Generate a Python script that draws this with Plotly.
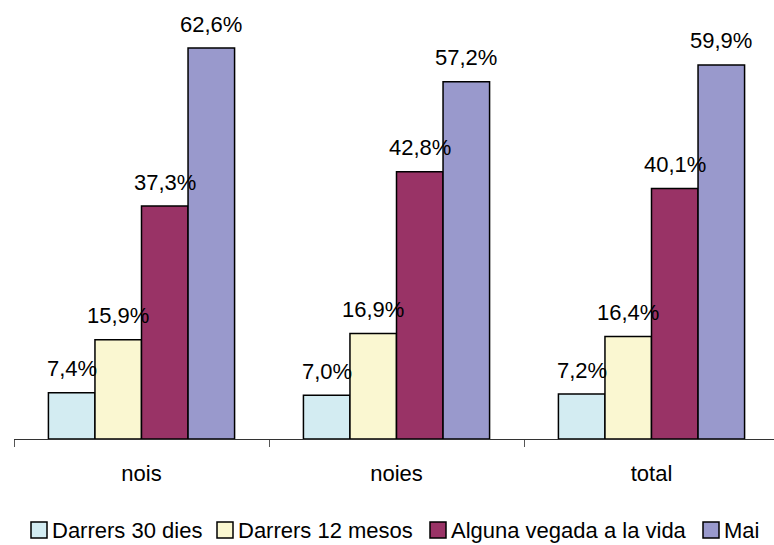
import plotly.graph_objects as go

categories = ["nois", "noies", "total"]
series_names = ["Darrers 30 dies", "Darrers 12 mesos", "Alguna vegada a la vida", "Mai"]
darrers_30 = [7.4, 7.0, 7.2]
darrers_12 = [15.9, 16.9, 16.4]
alguna_vegada = [37.3, 42.8, 40.1]
mai = [62.6, 57.2, 59.9]
series_values = [darrers_30, darrers_12, alguna_vegada, mai]
colors = ["#D3ECF2", "#FAF7D1", "#993366", "#9999CC"]

W, H = 774, 545
ML, MR, MT, MB = 14, 0, 10, 106
plot_w = W - ML - MR
plot_h = H - MT - MB
cat_px = 255.0
bargap = 0.27
bar_w = cat_px * (1 - bargap) / len(series_names)
y_top = 68.7
FONT = "Liberation Sans, Arial, sans-serif"
FS = 22


def fmt(v):
    return f"{v:.1f}".replace(".", ",") + "%"


fig = go.Figure()
for name, vals, col in zip(series_names, series_values, colors):
    fig.add_trace(go.Bar(
        x=categories, y=vals, name=name,
        marker=dict(color=col, line=dict(color="black", width=1.5)),
        showlegend=False, hoverinfo="x+y+name",
    ))

annotations = []
for i, vals in enumerate(series_values):
    for c, v in zip(categories, vals):
        annotations.append(dict(
            x=c, y=v, xref="x", yref="y", text=fmt(v),
            showarrow=False, xanchor="center", yanchor="middle",
            xshift=(i - (len(series_names) - 1) / 2) * bar_w, yshift=24,
            font=dict(family=FONT, size=FS, color="black"),
        ))


def px_x(p):
    return (p - ML) / plot_w


def px_y(p):
    return (H - MB - p) / plot_h


# custom legend (pixel layout)
leg_sq_x = [31, 217, 430, 703]
leg_sq = 16
leg_cy = 530
shapes = []
for sx, col, name in zip(leg_sq_x, colors, series_names):
    shapes.append(dict(
        type="rect", xref="paper", yref="paper",
        x0=px_x(sx), x1=px_x(sx + leg_sq),
        y0=px_y(leg_cy + leg_sq / 2), y1=px_y(leg_cy - leg_sq / 2),
        fillcolor=col, line=dict(color="black", width=1.5),
    ))
    annotations.append(dict(
        x=px_x(sx + leg_sq + 3), y=px_y(leg_cy), xref="paper", yref="paper",
        text=name, showarrow=False, xanchor="left", yanchor="middle",
        font=dict(family=FONT, size=FS, color="black"),
    ))

fig.update_layout(
    width=W, height=H,
    margin=dict(l=ML, r=MR, t=MT, b=MB, pad=0),
    paper_bgcolor="white", plot_bgcolor="white",
    barmode="group", bargap=bargap, bargroupgap=0,
    font=dict(family=FONT, size=FS, color="black"),
    xaxis=dict(
        range=[-0.5, -0.5 + plot_w / cat_px],
        showline=True, linecolor="#333333", linewidth=1,
        ticks="outside", tickson="boundaries", ticklen=7, tickcolor="#555555",
        tickfont=dict(family=FONT, size=FS, color="black"),
        ticklabelstandoff=15,
        showgrid=False, zeroline=False, fixedrange=True,
    ),
    yaxis=dict(
        range=[0, y_top], visible=False, showgrid=False, zeroline=False,
        fixedrange=True,
    ),
    annotations=annotations,
    shapes=shapes,
    showlegend=False,
)

fig.write_html(
    "out.html",
    config={"displayModeBar": False},
    post_script="document.body.style.margin='0';document.body.style.overflow='hidden';",
)
